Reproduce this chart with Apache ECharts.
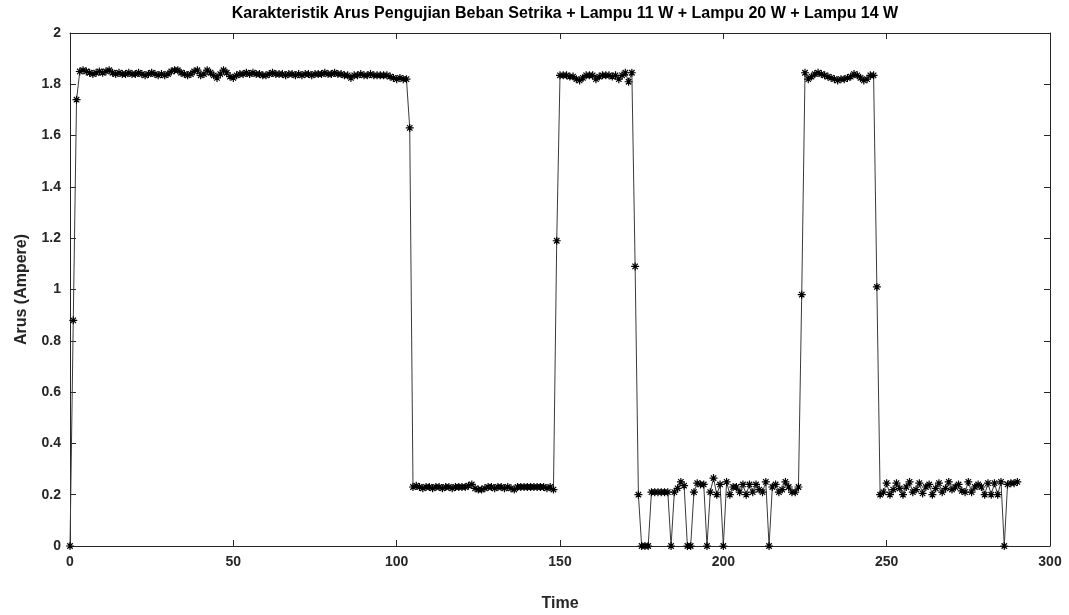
<!DOCTYPE html>
<html>
<head>
<meta charset="utf-8">
<script src="https://cdn.jsdelivr.net/npm/echarts@6/dist/echarts.min.js"></script>
<style>
html,body{margin:0;padding:0;background:#fff;}
#chart{width:1069px;height:615px;}
</style>
</head>
<body>
<div id="chart"></div>
<script>
// ---- data (Arus in Ampere, one sample per time unit starting at 0) ----
const startUp = [0, 0.88, 1.74];
const setrikaOn1 = [
  1.85, 1.855, 1.85, 1.845, 1.84, 1.845, 1.85, 1.845, 1.85, 1.855,
  1.845, 1.84, 1.845, 1.84, 1.84, 1.845, 1.84, 1.84, 1.845, 1.84,
  1.835, 1.84, 1.845, 1.84, 1.835, 1.84, 1.835, 1.84, 1.85, 1.855,
  1.855, 1.845, 1.84, 1.835, 1.84, 1.85, 1.855, 1.835, 1.84, 1.855,
  1.845, 1.835, 1.825, 1.84, 1.855, 1.845, 1.83, 1.825, 1.835, 1.84,
  1.84, 1.845, 1.84, 1.845, 1.84, 1.84, 1.835, 1.835, 1.84, 1.845,
  1.84, 1.84, 1.84, 1.835, 1.84, 1.84, 1.835, 1.84, 1.835, 1.84,
  1.84, 1.835, 1.84, 1.84, 1.84, 1.845, 1.84, 1.84, 1.845, 1.84,
  1.84, 1.835, 1.835, 1.825, 1.835, 1.835, 1.84, 1.835, 1.835, 1.84,
  1.835, 1.835, 1.835, 1.835, 1.835, 1.83, 1.825, 1.82, 1.825, 1.82,
  1.82
];
const fall1 = [1.63];
const lampuOnly1 = [
  0.23, 0.235, 0.23, 0.225, 0.23, 0.23, 0.225, 0.23, 0.23, 0.225,
  0.23, 0.23, 0.225, 0.23, 0.23, 0.23, 0.23, 0.235, 0.24, 0.225,
  0.22, 0.22, 0.225, 0.23, 0.23, 0.225, 0.23, 0.23, 0.225, 0.23,
  0.225, 0.22, 0.23, 0.23, 0.23, 0.23, 0.23, 0.23, 0.23, 0.23,
  0.23, 0.225, 0.23, 0.22
];
const rise2 = [1.19];
const setrikaOn2 = [
  1.835, 1.835, 1.835, 1.83, 1.83, 1.82, 1.815, 1.825, 1.835, 1.835,
  1.835, 1.82, 1.83, 1.835, 1.835, 1.835, 1.83, 1.835, 1.82, 1.835,
  1.845, 1.81, 1.845
];
const fall2 = [1.09];
const lampuOnly2 = [
  0.20, 0, 0, 0, 0.21, 0.21, 0.21, 0.21, 0.21, 0.21,
  0, 0.21, 0.225, 0.25, 0.235, 0, 0, 0.21, 0.245, 0.24,
  0.24, 0, 0.21, 0.265, 0.20, 0.24, 0, 0.25, 0.20, 0.23,
  0.23, 0.21, 0.24, 0.20, 0.24, 0.21, 0.24, 0.22, 0.21, 0.25,
  0, 0.23, 0.24, 0.21, 0.22, 0.25, 0.23, 0.21, 0.21, 0.23
];
const rise3 = [0.98];
const setrikaOn3 = [
  1.845, 1.82, 1.83, 1.84, 1.845, 1.84, 1.835, 1.83, 1.825, 1.82,
  1.815, 1.82, 1.82, 1.825, 1.83, 1.84, 1.835, 1.825, 1.815, 1.82,
  1.835, 1.835
];
const fall3 = [1.01];
const lampuOnly3 = [
  0.20, 0.21, 0.245, 0.20, 0.22, 0.245, 0.225, 0.20, 0.23, 0.25,
  0.21, 0.22, 0.245, 0.205, 0.23, 0.24, 0.20, 0.225, 0.245, 0.21,
  0.225, 0.25, 0.22, 0.23, 0.24, 0.215, 0.21, 0.25, 0.21, 0.23,
  0.24, 0.23, 0.20, 0.245, 0.20, 0.245, 0.20, 0.25, 0, 0.24,
  0.245, 0.245, 0.25
];
const xTicks = [0, 50, 100, 150, 200, 250, 300];
const yTicks = [0, 0.2, 0.4, 0.6, 0.8, 1, 1.2, 1.4, 1.6, 1.8, 2];

const arus = [].concat(startUp, setrikaOn1, fall1, lampuOnly1, rise2, setrikaOn2,
  fall2, lampuOnly2, rise3, setrikaOn3, fall3, lampuOnly3);
const seriesData = arus.map((v, i) => [i, v]);

const FONT = '"Liberation Sans", Arial, sans-serif';
const AX = '#262626';
const asterisk = 'path://M5 0V10M0 5H10M1.6 1.6L8.4 8.4M8.4 1.6L1.6 8.4';

const baseX = {
  type: 'value', min: xTicks[0], max: xTicks[xTicks.length - 1],
  interval: xTicks[1] - xTicks[0],
  axisLine: { show: true, onZero: false, lineStyle: { color: AX, width: 1 } },
  axisTick: { show: true, inside: true, length: 6, lineStyle: { color: AX } },
  splitLine: { show: false }
};
const baseY = {
  type: 'value', min: yTicks[0], max: yTicks[yTicks.length - 1],
  interval: +(yTicks[1] - yTicks[0]).toFixed(1),
  axisLine: { show: true, onZero: false, lineStyle: { color: AX, width: 1 } },
  axisTick: { show: true, inside: true, length: 6, lineStyle: { color: AX } },
  splitLine: { show: false }
};

const chart = echarts.init(document.getElementById('chart'), null, { renderer: 'canvas' });
chart.setOption({
  animation: false,
  backgroundColor: '#ffffff',
  title: {
    text: 'Karakteristik Arus Pengujian Beban Setrika + Lampu 11 W + Lampu 20 W + Lampu 14 W',
    left: 560, top: 1, textAlign: 'center',
    textStyle: { fontFamily: FONT, fontSize: 16, fontWeight: 'bold', color: '#000' }
  },
  grid: { left: 70, right: 19, top: 33, bottom: 69, containLabel: false, outerBoundsMode: 'none' },
  xAxis: [
    Object.assign({}, baseX, {
      position: 'bottom',
      name: 'Time', nameLocation: 'middle', nameGap: 50,
      nameTextStyle: { fontFamily: FONT, fontSize: 16, fontWeight: 'bold', color: '#262626' },
      axisLabel: { show: true, margin: 9, fontFamily: FONT, fontSize: 14, fontWeight: 'bold', color: '#262626' }
    }),
    Object.assign({}, baseX, { position: 'top', axisLabel: { show: false } })
  ],
  yAxis: [
    Object.assign({}, baseY, {
      position: 'left',
      name: 'Arus (Ampere)', nameLocation: 'middle', nameGap: 40, nameRotate: 90,
      nameTextStyle: { fontFamily: FONT, fontSize: 16, fontWeight: 'bold', color: '#262626' },
      axisLabel: { show: true, margin: 9, fontFamily: FONT, fontSize: 14, fontWeight: 'bold', color: '#262626',
        formatter: v => String(+v.toFixed(1)) }
    }),
    Object.assign({}, baseY, { position: 'right', axisLabel: { show: false } })
  ],
  series: [{
    type: 'line',
    xAxisIndex: 0, yAxisIndex: 0,
    data: seriesData,
    showSymbol: true, showAllSymbol: true,
    symbol: asterisk, symbolSize: 8,
    itemStyle: { color: 'rgba(0,0,0,0)', borderColor: '#000', borderWidth: 1.2 },
    lineStyle: { color: '#3a3a3a', width: 1 },
    emphasis: { disabled: true },
    silent: true
  }]
});
</script>
</body>
</html>
